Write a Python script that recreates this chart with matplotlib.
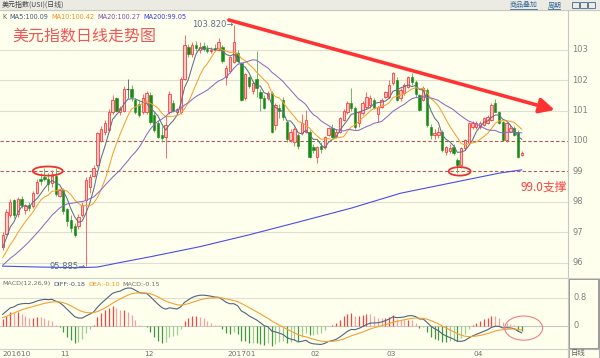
import numpy as np
import pandas as pd
import matplotlib
matplotlib.use("Agg")
import matplotlib.pyplot as plt
from matplotlib.patches import Ellipse, Rectangle

plt.rcParams['font.family'] = ['Noto Sans CJK SC', 'DejaVu Sans']

# trading days shown on the chart
dates = pd.bdate_range('2016-10-10', '2017-04-19')

opens = [96.50, 96.95, 97.55, 98.05, 97.60, 98.10, 97.72, 97.90, 97.85, 98.30,
         98.75, 98.82, 98.75, 98.62, 98.85, 98.20, 98.40, 97.75, 97.40, 97.20,
         97.20, 97.55, 98.05, 98.50, 98.85, 99.20, 100.00, 100.30, 100.35, 100.95,
         101.40, 100.95, 101.00, 101.70, 101.70, 101.35, 101.20, 100.95, 100.95, 101.50,
         100.85, 100.60, 100.20, 100.14, 100.95, 101.25, 100.95, 100.95, 102.05, 103.10,
         102.85, 103.15, 103.00, 103.12, 103.02, 102.97, 103.05, 103.00, 103.10, 102.12,
         102.30, 102.60, 102.90, 102.56, 101.40, 102.10, 101.65, 102.05, 101.60, 101.40,
         101.40, 101.57, 100.52, 101.10, 101.35, 100.62, 100.03, 99.95, 100.20, 100.26,
         100.31, 100.31, 99.81, 99.48, 99.84, 99.80, 100.20, 100.43, 100.15, 100.30,
         100.70, 100.95, 101.24, 101.08, 100.58, 100.91, 101.13, 101.18, 101.35, 100.90,
         101.13, 101.46, 101.46, 101.90, 102.00, 101.40, 101.57, 101.79, 102.10, 101.95,
         101.51, 101.35, 101.68, 100.47, 100.20, 100.18, 100.31, 99.65, 99.68, 99.80,
         99.38, 99.21, 99.76, 99.92, 100.47, 100.45, 100.47, 100.53, 100.60, 100.69,
         101.24, 100.96, 100.63, 100.03, 100.31, 100.42, 100.31, 99.55]
highs = [97.00, 97.75, 98.10, 98.10, 98.15, 98.20, 97.92, 97.98, 98.35, 98.75,
         98.95, 99.10, 98.95, 99.05, 99.10, 98.45, 98.45, 97.80, 97.55, 97.30,
         97.60, 98.00, 98.80, 98.90, 99.20, 100.30, 100.50, 100.70, 101.05, 101.50,
         101.45, 101.15, 101.80, 102.05, 101.85, 101.40, 101.30, 101.55, 101.65, 101.60,
         100.95, 100.70, 100.50, 100.85, 101.65, 101.35, 101.10, 102.10, 103.50, 103.20,
         103.25, 103.30, 103.25, 103.25, 103.15, 103.10, 103.20, 103.40, 103.15, 102.50,
         102.80, 103.82, 103.00, 102.60, 102.25, 102.15, 101.95, 102.95, 101.70, 101.50,
         101.65, 101.65, 101.25, 101.20, 101.45, 100.65, 100.40, 100.45, 100.25, 100.90,
         101.02, 100.35, 99.90, 99.85, 99.95, 100.15, 100.45, 100.55, 100.40, 100.80,
         101.05, 101.30, 101.74, 101.15, 101.00, 101.30, 101.62, 101.50, 101.42, 101.15,
         101.40, 101.65, 102.00, 102.26, 102.10, 101.75, 101.90, 102.15, 102.25, 102.00,
         101.55, 101.80, 101.75, 100.55, 100.40, 100.45, 100.35, 99.85, 99.90, 99.90,
         99.45, 99.80, 100.05, 100.62, 100.65, 100.65, 100.65, 100.80, 100.85, 101.25,
         101.38, 101.00, 100.65, 100.62, 100.55, 100.50, 100.35, 99.68]
lows = [96.40, 96.90, 97.50, 97.45, 97.50, 97.80, 97.60, 97.70, 97.80, 98.25,
        98.55, 98.68, 98.35, 98.50, 98.20, 98.15, 97.60, 97.20, 97.00, 96.85,
        97.10, 97.50, 95.885, 98.30, 98.80, 99.15, 99.95, 100.20, 100.30, 100.90,
        100.95, 100.85, 100.95, 101.40, 101.30, 100.90, 100.80, 100.90, 100.90, 100.55,
        100.30, 100.10, 99.95, 99.43, 100.90, 100.95, 100.85, 100.90, 102.00, 102.75,
        102.75, 102.95, 102.90, 102.95, 102.90, 102.90, 102.95, 102.95, 102.55, 101.85,
        102.25, 102.55, 102.55, 101.30, 101.35, 101.75, 101.55, 101.45, 101.00, 101.05,
        101.35, 100.25, 100.35, 100.75, 100.70, 99.98, 99.95, 99.85, 99.75, 100.20,
        100.25, 99.45, 99.60, 99.28, 99.60, 99.75, 100.15, 100.10, 100.10, 100.25,
        100.65, 100.90, 101.00, 100.40, 100.45, 100.85, 101.05, 101.10, 101.05, 100.64,
        101.10, 101.40, 101.40, 101.85, 101.30, 101.30, 101.50, 101.75, 101.85, 101.45,
        101.00, 101.30, 100.45, 100.05, 100.05, 100.10, 99.65, 99.55, 99.60, 99.55,
        98.95, 99.10, 99.70, 99.90, 100.40, 100.40, 100.40, 100.50, 100.55, 100.65,
        100.95, 100.55, 100.00, 99.98, 100.28, 100.15, 99.45, 99.52]
closes = [96.90, 97.65, 98.00, 97.55, 98.10, 97.88, 97.85, 97.80, 98.30, 98.65,
          98.68, 98.75, 98.58, 98.85, 98.25, 98.38, 97.70, 97.35, 97.15, 96.92,
          97.50, 97.90, 98.70, 98.80, 99.10, 100.25, 100.40, 100.60, 100.95, 101.35,
          101.00, 101.10, 101.70, 101.70, 101.45, 100.95, 100.85, 101.40, 101.57, 100.63,
          100.36, 100.14, 100.10, 100.53, 101.55, 101.00, 101.05, 102.05, 103.15, 102.85,
          103.15, 103.05, 103.10, 103.02, 102.97, 103.00, 102.98, 103.25, 102.62, 102.39,
          102.75, 103.25, 102.62, 101.35, 102.20, 101.80, 101.90, 101.75, 101.40, 101.08,
          101.57, 100.30, 101.18, 100.98, 100.78, 100.05, 100.30, 100.40, 99.82, 100.59,
          100.69, 99.47, 99.70, 99.81, 99.72, 100.13, 100.43, 100.13, 100.30, 100.76,
          101.00, 101.25, 101.07, 100.46, 100.96, 101.24, 101.46, 101.40, 101.07, 101.13,
          101.35, 101.62, 101.85, 102.23, 101.35, 101.68, 101.84, 102.12, 101.95, 101.55,
          101.02, 101.73, 100.53, 100.20, 100.27, 100.30, 99.70, 99.81, 99.78, 99.62,
          99.21, 99.76, 100.03, 100.58, 100.58, 100.58, 100.58, 100.75, 100.80, 101.18,
          100.96, 100.58, 100.03, 100.58, 100.42, 100.20, 99.48, 99.60]

# closes before the window, only needed to start the MA / MACD lines
prior_closes = [94.6, 94.8, 95.0, 94.9, 95.1, 95.4, 95.6, 95.5, 95.3, 95.0,
                95.2, 95.4, 95.6, 95.9, 95.8, 95.4, 95.3, 95.5, 95.1, 95.2,
                95.4, 95.4, 95.6, 95.8, 95.9, 95.7, 95.5, 95.3, 95.6, 95.9,
                95.9, 95.6, 95.8, 95.7, 96.0, 96.0, 96.1, 96.2, 96.7, 96.6]

# MA200 (candle index, value)
ma200_idx = [0, 10, 20, 25, 31, 39, 52, 65, 78, 92, 105, 118, 131, 137]
ma200_val = [95.88, 95.85, 95.83, 95.85, 96.00, 96.19, 96.52, 96.91, 97.33,
             97.79, 98.28, 98.61, 98.94, 99.05]

price_ticks = [96, 97, 98, 99, 100, 101, 102, 103]
month_labels = ['201610', '11', '12', '201701', '02', '03', '04']

BG = '#ffffee'
W, H = 600, 358


def box(x0, y0, x1, y1):
    return [x0 / W, 1 - y1 / H, (x1 - x0) / W, (y1 - y0) / H]


fig = plt.figure(figsize=(6, 3.58), dpi=100, facecolor=BG)
ax = fig.add_axes(box(0, 10, 568, 278))
mx = fig.add_axes(box(0, 278, 568, 349))
ov = fig.add_axes([0, 0, 1, 1], zorder=5)
ov.set_xlim(0, W)
ov.set_ylim(H, 0)
ov.axis('off')
ov.patch.set_alpha(0)

x = np.arange(len(closes))
o, h, l, c = (np.array(v) for v in (opens, highs, lows, closes))

full = pd.Series(prior_closes + closes)
n0 = len(prior_closes)
ma5 = full.rolling(5).mean().values[n0:]
ma10 = full.rolling(10).mean().values[n0:]
ma20 = full.rolling(20).mean().values[n0:]
ema12 = full.ewm(span=12, adjust=False).mean()
ema26 = full.ewm(span=26, adjust=False).mean()
dif = ema12 - ema26
dea = dif.ewm(span=9, adjust=False).mean()
macd = (2 * (dif - dea)).values[n0:]
dif = dif.values[n0:]
dea = dea.values[n0:]

# ---- price panel
for a in (ax, mx):
    a.set_facecolor(BG)
    a.set_xlim(-0.71, 149.2)
    a.set_xticks([])
    a.set_yticks([])
    for s in a.spines.values():
        s.set_visible(False)
ax.set_ylim(95.49, 104.31)

for p in price_ticks:
    if p in (99, 100):
        ax.axhline(p, color='#b05a5a', lw=0.8, ls=(0, (3, 2)), zorder=1)
    else:
        ax.axhline(p, color='#deded2', lw=0.8, zorder=1)
    ax.text(1.008, p, str(p), transform=ax.get_yaxis_transform(), fontsize=6,
            color='#808080', va='center', ha='left', family='DejaVu Sans', clip_on=False)

up = c > o
dn = c < o
eq = c == o
ax.vlines(x[up], l[up], h[up], color='#ff6666', lw=0.7, zorder=2)
ax.vlines(x[dn], l[dn], h[dn], color='#6ab86a', lw=0.7, zorder=2)
ax.vlines(x[eq], l[eq], h[eq], color='#707070', lw=0.7, zorder=2)
ax.bar(x[up], c[up] - o[up], bottom=o[up], width=0.62, color='#ffc4c4',
       edgecolor='#ff3b3b', lw=0.6, zorder=3)
ax.bar(x[dn], o[dn] - c[dn], bottom=c[dn], width=0.62, color='#178a17',
       edgecolor='#178a17', lw=0.4, zorder=3)
ax.hlines(c[eq], x[eq] - 0.35, x[eq] + 0.35, color='#505050', lw=0.8, zorder=3)

ax.plot(x, ma5, color='#5b6f88', lw=0.75, zorder=4)
ax.plot(x, ma10, color='#f5a033', lw=0.75, zorder=4)
ax.plot(x, ma20, color='#8a6cc2', lw=0.75, zorder=4)
ax.plot(ma200_idx, ma200_val, color='#4b4bf0', lw=0.8, zorder=4)

# annotations drawn on the chart
ax.annotate('', xy=(145.7, 101.02), xytext=(59.7, 103.98),
            arrowprops=dict(arrowstyle='-|>,head_length=0.9,head_width=0.45',
                            color='#ff3333', lw=2.6, shrinkA=0, shrinkB=0), zorder=6)
ax.add_patch(Ellipse((11.9, 99.01), 7.9, 0.30, fill=False, ec='#ee3030', lw=1.3, zorder=6))
ax.add_patch(Ellipse((120.6, 99.0), 5.8, 0.28, fill=False, ec='#ee3030', lw=1.3, zorder=6))
ax.text(61, 103.82, '103.820\u2192', ha='right', va='center', fontsize=6,
        color='#5b6f88', family='DejaVu Sans', zorder=6)
ax.text(21.8, 95.86, '95.885\u2192', ha='right', va='center', fontsize=6,
        color='#5b6f88', family='DejaVu Sans', zorder=6)
ax.text(148.9, 98.49, '99.0支撑', ha='right', va='center', fontsize=8.5,
        color='#ff4040', zorder=6)

# ---- MACD panel
mx.set_ylim(-0.657, 1.371)
mx.axhline(0.8, color='#deded2', lw=0.8, zorder=1)
mx.axhline(0, color='#c8c8c0', lw=0.8, zorder=1)
prev = np.r_[0, macd[:-1]]
cols = []
for v, pv in zip(macd, prev):
    if v >= 0:
        cols.append('#f04545' if v >= pv else '#f7a0a0')
    else:
        cols.append('#3f9a3f' if v <= pv else '#9ccf8e')
mx.vlines(x, 0, macd, colors=cols, lw=0.9, zorder=2)
mx.plot(x, dif, color='#50647c', lw=0.8, zorder=3)
mx.plot(x, dea, color='#f5a033', lw=0.8, zorder=3)
mx.add_patch(Ellipse((137.5, -0.06), 10, 0.69, fill=False, ec='#f08080', lw=0.8, zorder=4))
for v, s in ((0.8, '0.8'), (0, '0')):
    mx.text(1.01, v, s, transform=mx.get_yaxis_transform(), fontsize=6,
            color='#808080', va='center', ha='left', family='DejaVu Sans', clip_on=False)

# ---- frame, header bar and texts
ov.add_patch(Rectangle((0, 0), 600, 10, color='#ebebe3', zorder=1))
ov.plot([0, 600], [10, 10], color='#c8c8c0', lw=0.8)
ov.plot([568, 568], [10, 358], color='#c8c8c0', lw=0.8)
ov.plot([0, 600], [278, 278], color='#d0d0c8', lw=0.8)
ov.plot([0, 568], [349, 349], color='#d0d0c8', lw=0.8)
ov.add_patch(Rectangle((568.5, 279), 30.5, 70, fill=False, ec='#9a9a9a', lw=1.4))
ov.add_patch(Rectangle((568.5, 349), 30.5, 8.5, fill=False, ec='#b0b0b0', lw=0.8))

ov.text(2, 5, '美元指数(USI)(日线)', fontsize=5, color='#404040', va='center')
ov.text(510, 5.5, '商品叠加', fontsize=5, color='#3a6a9a', va='center')
ov.plot([510, 537], [9, 9], color='#3a6a9a', lw=0.6)
ov.text(548, 5.5, '周期', fontsize=5, color='#3a6a9a', va='center')
ov.plot([548, 560], [9, 9], color='#3a6a9a', lw=0.6)
for bx in (572, 580, 588):
    ov.add_patch(Rectangle((bx, 2), 7, 6, fill=False, ec='#5a7a9a', lw=0.7))

ov.text(12, 36, '美元指数日线走势图', fontsize=11.5, color='#f25555', va='center')

fig.canvas.draw()
rend = fig.canvas.get_renderer()


def text_row(items, x0, y, size, gap):
    # lay the texts one after another so they never overlap
    px = x0
    for s, col in items:
        t = ov.text(px, y, s, fontsize=size, color=col, va='center', family='DejaVu Sans')
        px += t.get_window_extent(renderer=rend).width + gap


text_row([('K', '#606060'), ('MA5:100.09', '#44587a'), ('MA10:100.42', '#f09020'),
          ('MA20:100.27', '#7a50b0'), ('MA200:99.05', '#3a3ae8')], 2, 17, 4.7, 3)
text_row([('MACD(12,26,9)', '#707070'), ('DIFF:-0.18', '#44587a'),
          ('DEA:-0.10', '#f09020'), ('MACD:-0.15', '#707070')], 2, 284, 4.6, 3)

# month labels along the bottom
month_pos = [0] + [i for i in range(1, len(dates)) if dates[i].month != dates[i - 1].month]
for k, (i, s) in enumerate(zip(month_pos, month_labels)):
    px = 2 if k == 0 else 2.7 + 3.79 * i - 3
    ov.text(px, 353.5, s, fontsize=5.3, color='#707070', va='center', family='DejaVu Sans')
ov.text(571, 353.5, '日线', fontsize=5.3, color='#606060', va='center')

fig.savefig('out.png', dpi=100, facecolor=BG)
